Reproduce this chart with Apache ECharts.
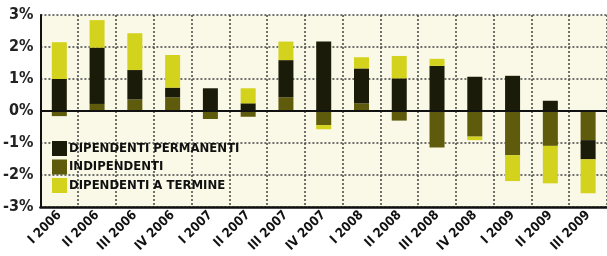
<html>
<head>
    <meta charset="utf-8">
    <script src="https://cdn.jsdelivr.net/npm/echarts@6/dist/echarts.min.js"></script>
    <style>
        body { margin: 0; background: #fff; }
    </style>
</head>
<body>
    <div id="main" style="width:607px; height:256px"></div>
<script type="text/javascript">
    var categories = ['I 2006', 'II 2006', 'III 2006', 'IV 2006', 'I 2007', 'II 2007', 'III 2007', 'IV 2007',
        'I 2008', 'II 2008', 'III 2008', 'IV 2008', 'I 2009', 'II 2009', 'III 2009'];
    var permanenti = [1.0, 1.76, 0.92, 0.30, 0.71, 0.24, 1.16, 2.17, 1.09, 1.02, 1.41, 1.07, 1.10, 0.32, -0.60];
    var indipendenti = [-0.16, 0.22, 0.36, 0.43, -0.25, -0.18, 0.43, -0.44, 0.24, -0.30, -1.14, -0.80, -1.38, -1.09, -0.91];
    var termine = [1.15, 0.86, 1.15, 1.02, 0, 0.47, 0.58, -0.13, 0.35, 0.70, 0.22, -0.11, -0.81, -1.17, -1.06];
    var yTicks = [-3, -2, -1, 0, 1, 2, 3];

    var font = "'DejaVu Sans Condensed', 'Liberation Sans Narrow', sans-serif";
    var myChart = echarts.init(document.getElementById('main'));

    var option = {
        animation: false,
        grid: {
            left: 40, top: 15, width: 572, height: 192,
            show: true, backgroundColor: '#faf8e6', borderWidth: 0
        },
        legend: {
            orient: 'vertical', left: 47, top: 136,
            itemWidth: 15, itemHeight: 15, itemGap: 3.5,
            icon: 'rect',
            data: ['DIPENDENTI PERMANENTI', 'INDIPENDENTI', 'DIPENDENTI A TERMINE'],
            textStyle: { fontFamily: font, fontWeight: 'bold', fontSize: 13, color: '#111', padding: [0, 0, 0, -3] }
        },
        xAxis: {
            type: 'category',
            data: categories,
            axisLine: { onZero: false, lineStyle: { color: '#111', width: 2.5 } },
            axisTick: { show: false },
            splitLine: { show: true, lineStyle: { color: '#444', type: [2, 2], width: 1.5 } },
            axisLabel: {
                rotate: 45, margin: 6, interval: 0,
                fontFamily: font, fontWeight: 'bold', fontSize: 13, color: '#111'
            }
        },
        yAxis: {
            type: 'value',
            min: yTicks[0], max: yTicks[yTicks.length - 1], interval: 1,
            axisLine: { show: true, lineStyle: { color: '#111', width: 2 } },
            axisTick: { show: false },
            splitLine: { lineStyle: { color: '#444', type: [2, 2], width: 1.5 } },
            axisLabel: {
                margin: 7, fontFamily: font, fontWeight: 'bold', fontSize: 16, color: '#222',
                formatter: function (v) { return v + '%'; }
            }
        },
        series: [{
            name: 'INDIPENDENTI', type: 'bar', stack: 'tot', barWidth: 15,
            itemStyle: { color: '#5e5b0c' },
            data: indipendenti,
            markLine: {
                silent: true, symbol: 'none', label: { show: false },
                lineStyle: { color: '#111', type: 'solid', width: 2 },
                data: [{ yAxis: 0 }]
            }
        }, {
            name: 'DIPENDENTI PERMANENTI', type: 'bar', stack: 'tot', barWidth: 15,
            itemStyle: { color: '#1b1b0a' },
            data: permanenti
        }, {
            name: 'DIPENDENTI A TERMINE', type: 'bar', stack: 'tot', barWidth: 15,
            itemStyle: { color: '#d3d21c' },
            data: termine
        }]
    };
    myChart.setOption(option);
</script>
</body>
</html>
